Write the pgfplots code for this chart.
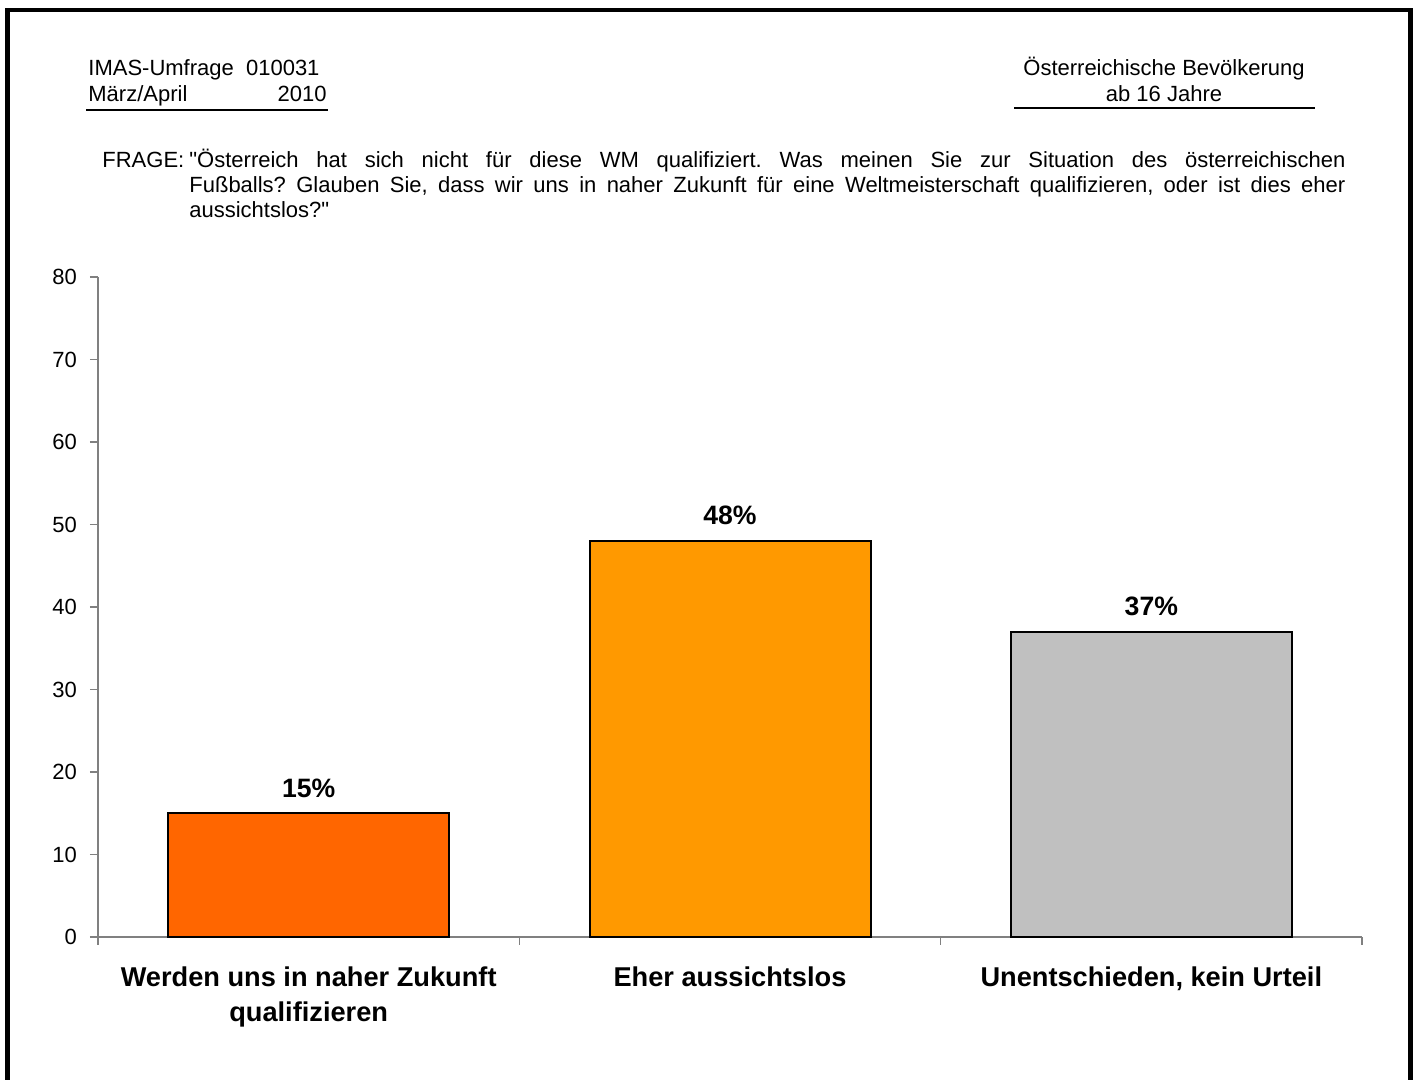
\documentclass[border=0pt]{standalone}
\usepackage{fontspec}
\setmainfont{Liberation Sans}[Ligatures=TeXOff]
\usepackage{pgfplots}
\pgfplotsset{compat=1.18}
\definecolor{barA}{HTML}{FF6600}
\definecolor{barB}{HTML}{FF9900}
\definecolor{barC}{HTML}{C0C0C0}
\definecolor{axgray}{HTML}{808080}
\frenchspacing
\begin{document}
\begin{tikzpicture}
\useasboundingbox (0pt,0pt) rectangle (709.5pt,540pt);
\draw[line width=2.3pt] (3.75pt,-5pt) -- (3.75pt,535pt) -- (705.25pt,535pt) -- (705.25pt,-5pt);
% header
\node[anchor=base west, inner sep=0, font=\fontsize{11}{13}\selectfont] at (44pt,502pt) {IMAS-Umfrage\ \ 010031};
\node[anchor=base west, inner sep=0, font=\fontsize{11}{13}\selectfont] at (44pt,489pt) {März/April};
\node[anchor=base east, inner sep=0, font=\fontsize{11}{13}\selectfont] at (163.5pt,489pt) {2010};
\draw[line width=0.6pt] (43pt,485pt) -- (164pt,485pt);
\node[anchor=base, inner sep=0, font=\fontsize{11}{13}\selectfont] at (582pt,502pt) {Österreichische Bevölkerung};
\node[anchor=base, inner sep=0, font=\fontsize{11}{13}\selectfont] at (582pt,489pt) {ab 16 Jahre};
\draw[line width=0.6pt] (507pt,486pt) -- (657.5pt,486pt);
% question
\node[anchor=base west, inner sep=0, font=\fontsize{11}{13}\selectfont] at (51pt,456pt) {FRAGE:};
\node[anchor=base west, inner sep=0, text width=578pt, align=justify, font=\fontsize{11}{12.5}\selectfont] at (94.5pt,456pt)
 {\frenchspacing "Österreich hat sich nicht für diese WM qualifiziert. Was meinen Sie zur Situation des österreichischen\linebreak Fußballs? Glauben Sie, dass wir uns in naher Zukunft für eine Weltmeisterschaft qualifizieren, oder ist dies eher\linebreak aussichtslos?"};
\begin{axis}[
  at={(49pt,71.5pt)}, anchor=south west,
  scale only axis, width=632pt, height=330pt,
  xmin=0, xmax=3, ymin=0, ymax=80,
  axis lines*=left,
  axis line style={axgray, line width=0.8pt},
  tick style={axgray, line width=0.8pt},
  tick align=outside, major tick length=4pt,
  ytick={0,10,...,80},
  xtick={0,1,2,3}, xticklabels={},
  extra x ticks={0.5,1.5,2.5},
  extra x tick labels={{Werden uns in naher Zukunft\\qualifizieren},{Eher aussichtslos},{Unentschieden, kein Urteil}},
  extra x tick style={xtick style={draw=none}},
  xticklabel style={font=\fontsize{13.6}{17.5}\selectfont\bfseries, align=center, yshift=-7.5pt},
  yticklabel style={font=\fontsize{11}{13}\selectfont, xshift=-3pt},
  /pgf/number format/assume math mode=true,
  nodes near coords={\pgfmathprintnumber{\pgfplotspointmeta}\%},
  every node near coord/.append style={font=\fontsize{13.3}{16}\selectfont\bfseries, anchor=base, yshift=8pt},
  clip=false,
]
\addplot[ybar, bar width=140.5pt, bar shift=0pt, draw=black, line width=1pt, fill=barA] coordinates {(0.5,15)};
\addplot[ybar, bar width=140.5pt, bar shift=0pt, draw=black, line width=1pt, fill=barB] coordinates {(1.5,48)};
\addplot[ybar, bar width=140.5pt, bar shift=0pt, draw=black, line width=1pt, fill=barC] coordinates {(2.5,37)};
\end{axis}
\end{tikzpicture}
\end{document}
